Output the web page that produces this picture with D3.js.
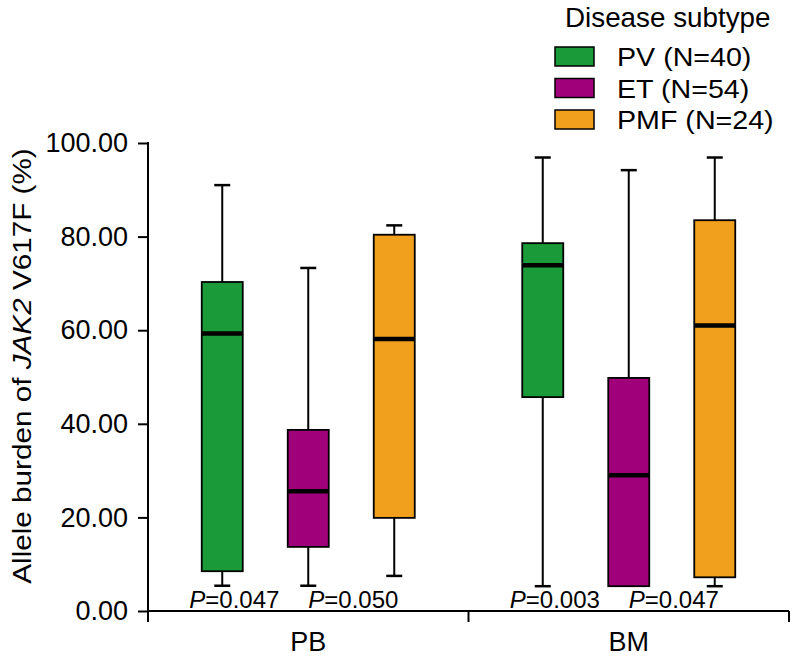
<!DOCTYPE html>
<html><head><meta charset="utf-8">
<script src="https://cdn.jsdelivr.net/npm/d3@7"></script>
<style>
body{margin:0;background:#fff;}
text{font-family:"Liberation Sans",Arial,Helvetica,sans-serif;fill:#000;}
</style></head>
<body>
<svg id="chart" width="795" height="660"></svg>
<script>
// ---- data ----
const groups = ["PB", "BM"];
const subtypes = ["PV", "ET", "PMF"];
const legendLabels = ["PV (N=40)", "ET (N=54)", "PMF (N=24)"];
const colors = ["#1a9a38", "#a0007a", "#f0a01c"];
// [whiskerLow, q1, median, q3, whiskerHigh] per group per subtype
const pbStats = [
  [5.4, 8.5, 59.3, 70.3, 91.0],
  [5.4, 13.7, 25.6, 38.7, 73.3],
  [7.5, 19.9, 58.1, 80.4, 82.4]
];
const bmStats = [
  [5.3, 45.7, 73.9, 78.6, 96.9],
  [5.3, 5.3, 29.0, 49.8, 94.2],
  [5.3, 7.2, 61.0, 83.5, 96.9]
];
const pLabels = [["0.047", "0.050"], ["0.003", "0.047"]];
const yTicks = [0, 20, 40, 60, 80, 100];

(function () {
const svg = d3.select("#chart");
const mLeft = 148, mRight = 789, mTop = 143, mBottom = 611;

const x = d3.scaleBand().domain(groups).range([mLeft, mRight]).padding(0);
const xs = d3.scaleBand().domain(subtypes).range([-129, 129]).padding(0);
const y = d3.scaleLinear().domain([0, 100]).range([mBottom, mTop]);
const color = d3.scaleOrdinal().domain(subtypes).range(colors);
const boxW = 41, capW = 16;

const data = [];
groups.forEach((g, gi) => {
  const st = gi === 0 ? pbStats : bmStats;
  subtypes.forEach((s, si) => {
    const v = st[si];
    data.push({g, s, lo: v[0], q1: v[1], med: v[2], q3: v[3], hi: v[4]});
  });
});
const cx = d => x(d.g) + x.bandwidth() / 2 + xs(d.s) + xs.bandwidth() / 2;

const boxes = svg.append("g").selectAll("g").data(data).join("g");
boxes.append("line")
  .attr("x1", cx).attr("x2", cx)
  .attr("y1", d => y(d.hi)).attr("y2", d => y(d.q3))
  .attr("stroke", "#000").attr("stroke-width", 2);
boxes.append("line")
  .attr("x1", cx).attr("x2", cx)
  .attr("y1", d => y(d.q1)).attr("y2", d => y(d.lo))
  .attr("stroke", "#000").attr("stroke-width", 2);
boxes.append("line")
  .attr("x1", d => cx(d) - capW / 2).attr("x2", d => cx(d) + capW / 2)
  .attr("y1", d => y(d.hi)).attr("y2", d => y(d.hi))
  .attr("stroke", "#000").attr("stroke-width", 2.5);
boxes.filter(d => d.lo < d.q1).append("line")
  .attr("x1", d => cx(d) - capW / 2).attr("x2", d => cx(d) + capW / 2)
  .attr("y1", d => y(d.lo)).attr("y2", d => y(d.lo))
  .attr("stroke", "#000").attr("stroke-width", 2.5);
boxes.append("rect")
  .attr("x", d => cx(d) - boxW / 2).attr("width", boxW)
  .attr("y", d => y(d.q3)).attr("height", d => y(d.q1) - y(d.q3))
  .attr("fill", d => color(d.s)).attr("stroke", "#000").attr("stroke-width", 1.8);
boxes.append("line")
  .attr("x1", d => cx(d) - boxW / 2).attr("x2", d => cx(d) + boxW / 2)
  .attr("y1", d => y(d.med)).attr("y2", d => y(d.med))
  .attr("stroke", "#000").attr("stroke-width", 4.5);

// y axis
const yAxis = svg.append("g").attr("transform", `translate(${mLeft},0)`)
  .call(d3.axisLeft(y).tickValues(yTicks).tickFormat(d3.format(".2f"))
    .tickSize(10).tickSizeOuter(0).tickPadding(10));
yAxis.select(".domain").remove();
yAxis.selectAll(".tick line").attr("stroke", "#000").attr("stroke-width", 2);
yAxis.attr("font-family", null).attr("font-size", null);
yAxis.selectAll(".tick text").style("font-size", "27px");
svg.append("line").attr("x1", mLeft).attr("x2", mLeft).attr("y1", mTop - 1).attr("y2", mBottom + 11)
  .attr("stroke", "#000").attr("stroke-width", 2);

// x axis
svg.append("line").attr("x1", mLeft).attr("x2", mRight).attr("y1", mBottom).attr("y2", mBottom)
  .attr("stroke", "#000").attr("stroke-width", 2);
const bounds = groups.map(g => x(g)).concat([x(groups[groups.length - 1]) + x.bandwidth()]);
svg.append("g").selectAll("line").data(bounds.slice(1)).join("line")
  .attr("x1", d => d).attr("x2", d => d).attr("y1", mBottom).attr("y2", mBottom + 11)
  .attr("stroke", "#000").attr("stroke-width", 2);
svg.append("g").selectAll("text").data(groups).join("text")
  .attr("x", g => x(g) + x.bandwidth() / 2).attr("y", 651)
  .attr("text-anchor", "middle").style("font-size", "27px").text(g => g);

// P labels
groups.forEach((g, gi) => {
  const starts = [cx({g, s: "PV"}) - 33, cx({g, s: "ET"})];
  pLabels[gi].forEach((p, pi) => {
    const t = svg.append("text").attr("x", starts[pi]).attr("y", 608).style("font-size", "24px");
    t.append("tspan").style("font-style", "italic").text("P");
    t.append("tspan").text("=" + p);
  });
});

// y title
const yt = svg.append("text").attr("transform", "translate(31,366) rotate(-90) scale(1.12,1)")
  .attr("text-anchor", "middle").style("font-size", "26.5px");
yt.append("tspan").text("Allele burden of ");
yt.append("tspan").style("font-style", "italic").text("JAK2");
yt.append("tspan").text(" V617F (%)");

// legend
svg.append("text").attr("transform", "translate(565,27) scale(1.03,1)")
  .style("font-size", "27px").text("Disease subtype");
const leg = svg.append("g").selectAll("g").data(subtypes).join("g")
  .attr("transform", (d, i) => `translate(0,${i * 31.5})`);
leg.append("rect").attr("x", 555).attr("y", 47).attr("width", 39).attr("height", 19)
  .attr("fill", d => color(d)).attr("stroke", "#000").attr("stroke-width", 1.5);
leg.append("text").attr("transform", "translate(617,66) scale(1.08,1)").style("font-size", "26.5px")
  .text((d, i) => legendLabels[i]);
})();
</script>
</body></html>
